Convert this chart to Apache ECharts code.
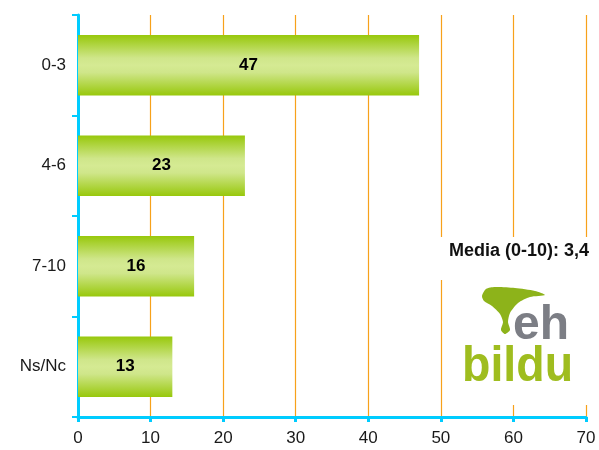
<!DOCTYPE html>
<html><head><meta charset="utf-8">
<script src="https://cdn.jsdelivr.net/npm/echarts@6/dist/echarts.min.js"></script>
<style>html,body{margin:0;padding:0;background:#fff}#c{width:599px;height:450px}</style>
</head><body><div id="c"></div>
<script>
const categories = ['0-3', '4-6', '7-10', 'Ns/Nc'];
const values = [47, 23, 16, 13];
const xTicks = [0, 10, 20, 30, 40, 50, 60, 70];
const mediaText = 'Media (0-10): 3,4';

const chart = echarts.init(document.getElementById('c'), null, {renderer: 'canvas'});
const barGrad = {
  type: 'linear', x: 0, y: 0, x2: 0, y2: 1,
  colorStops: [
    {offset: 0, color: '#98c80c'},
    {offset: 0.38, color: '#cfe68a'},
    {offset: 0.5, color: '#d5ea93'},
    {offset: 0.62, color: '#cfe68a'},
    {offset: 1, color: '#98c80c'}
  ]
};
chart.setOption({
  animation: false,
  grid: {left: 78, right: 13, top: 15, bottom: 33, containLabel: false},
  xAxis: {
    type: 'value', min: xTicks[0], max: xTicks[xTicks.length - 1], interval: 10,
    axisLine: {show: true, lineStyle: {color: '#00ccff', width: 3}},
    axisTick: {show: true, length: 5, lineStyle: {color: '#00ccff', width: 3}},
    axisLabel: {color: '#1a1a1a', fontSize: 17, fontFamily: 'Liberation Sans', margin: 13},
    splitLine: {show: true, lineStyle: {color: '#f7a11a', width: 1.2}}
  },
  yAxis: {
    type: 'category', data: categories, inverse: true,
    axisLine: {show: true, lineStyle: {color: '#00ccff', width: 3}},
    axisTick: {show: true, length: 6, lineStyle: {color: '#00ccff', width: 2}},
    axisLabel: {color: '#1a1a1a', fontSize: 17, fontFamily: 'Liberation Sans', margin: 12},
    splitLine: {show: false}
  },
  graphic: [
    {type: 'rect', z: 50, shape: {x: 436, y: 237, width: 155, height: 43}, style: {fill: '#ffffff'}},
    {type: 'rect', z: 50, shape: {x: 444, y: 279, width: 147, height: 126}, style: {fill: '#ffffff'}},
    {type: 'text', z: 51, style: {x: 589, y: 251, text: mediaText, fill: '#111', font: 'bold 18px "Liberation Sans"', textAlign: 'right', textVerticalAlign: 'middle'}},
    {type: 'polygon', z: 51, shape: {smooth: 0.25, points: [[482,296],[486,289],[495,287],[515,288],[535,291],[545,295],[530,297],[518,303],[510,313],[508,322],[510,330],[505,334],[501,330],[503,322],[500,314],[492,306],[484,301]]}, style: {fill: '#8db31a'}},
    {type: 'text', z: 51, style: {x: 513, y: 302, text: 'eh', fill: '#7c7e85', font: 'bold 48px "Liberation Sans"', textAlign: 'left', textVerticalAlign: 'top'}},
    {type: 'text', z: 51, x: 462, y: 0, scaleX: 0.93, style: {x: 0, y: 342, text: 'bildu', fill: '#9fbd1f', font: 'bold 50px "Liberation Sans"', textAlign: 'left', textVerticalAlign: 'top'}}
  ],
  series: [{
    type: 'bar', data: values, barCategoryGap: '40%',
    itemStyle: {color: barGrad},
    label: {show: true, position: 'inside', color: '#000', fontWeight: 'bold', fontSize: 17, fontFamily: 'Liberation Sans'}
  }]
});
</script></body></html>
